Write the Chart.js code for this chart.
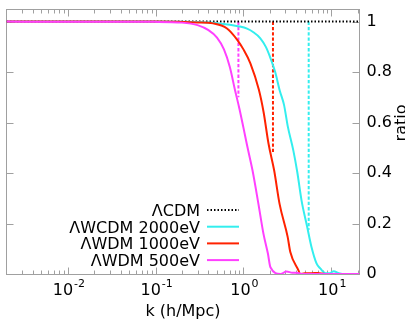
<!DOCTYPE html>
<html>
<head>
<meta charset="utf-8">
<script src="https://cdn.jsdelivr.net/npm/chart.js@4"></script>
<style>
html, body { margin: 0; padding: 0; background: #fff; }
canvas { display: block; }
</style>
</head>
<body>
<canvas id="ratioChart" width="405" height="324"></canvas>
<script>
// legend labels / colours, in legend order
const seriesLabels = ['ΛCDM', 'ΛWCDM 2000eV', 'ΛWDM 1000eV', 'ΛWDM 500eV'];
const seriesColors = ['#000000', '#33eeee', '#ff2200', '#ff40ff'];

// axis ranges and ticks
const xMin = 0.002;
const xMax = 21;
const xDecades = [0.001, 0.01, 0.1, 1, 10];
const xMajorTicks = [0.01, 0.1, 1, 10];
const xMajorExponents = ['-2', '-1', '0', '1'];
const yMin = 0;
const yMax = 1.05;
const yTicks = [0, 0.2, 0.4, 0.6, 0.8, 1];
const yTickLabels = ['0', '0.2', '0.4', '0.6', '0.8', '1'];

// LCDM reference
const kCdm = [0.002, 21];
const ratioCdm = [1, 1];

// 2000 eV
const kWcdm2000 = [0.002, 0.1, 0.3, 0.5, 0.7, 0.9, 1.1, 1.3, 1.55, 1.8, 2.0, 2.3, 2.6, 2.9, 3.2, 3.7, 4.1, 4.6, 5.3, 5.95, 6.8, 7.5, 8.6, 9.5, 10.7, 12, 13.5, 21];
const ratioWcdm2000 = [1, 1, 0.998, 0.994, 0.988, 0.981, 0.972, 0.958, 0.935, 0.9, 0.862, 0.8, 0.725, 0.67, 0.585, 0.49, 0.405, 0.29, 0.19, 0.108, 0.042, 0.022, 0.003, 0.003, 0.011, 0.004, 0, 0];

// 1000 eV
const kWdm1000 = [0.002, 0.1, 0.3, 0.45, 0.65, 0.85, 1.0, 1.2, 1.5, 1.7, 1.93, 2.24, 2.58, 3.19, 3.42, 4.26, 4.4, 5, 6, 7, 8.5, 21];
const ratioWdm1000 = [1, 1, 0.997, 0.993, 0.973, 0.928, 0.89, 0.835, 0.73, 0.64, 0.517, 0.41, 0.278, 0.147, 0.087, 0.012, 0, 0.003, 0.003, 0.004, 0, 0];

// 500 eV
const kWdm500 = [0.002, 0.1, 0.2, 0.3, 0.4, 0.5, 0.6, 0.7, 0.8, 0.9, 1.0, 1.1, 1.27, 1.48, 1.69, 1.9, 2.03, 2.65, 3.1, 3.6, 4.2, 4.6, 21];
const ratioWdm500 = [1, 0.999, 0.996, 0.986, 0.966, 0.937, 0.89, 0.82, 0.73, 0.655, 0.58, 0.51, 0.41, 0.279, 0.16, 0.081, 0.027, 0, 0.01, 0.005, 0.004, 0, 0];

// half-mode markers (cyan, red, magenta)
const kHalfMode = [5.54, 2.17, 0.877];
const halfModeTop = [1, 1, 1];
const halfModeBottom = [0.175, 0.477, 0.70];

function toPoints(ks, rs) {
    return ks.map((k, i) => ({ x: k, y: rs[i] }));
}

const xTickValues = [];
xDecades.forEach(d => {
    for (let m = 1; m <= 9; m++) {
        const v = m * d;
        if (v > xMin && v < xMax) xTickValues.push(v);
    }
});

Chart.defaults.font.family = '"DejaVu Sans", sans-serif';
Chart.defaults.font.size = 16;
Chart.defaults.color = '#000';

// border + inward tick marks (gnuplot style)
const frameTicks = {
    id: 'frameTicks',
    beforeDatasetsDraw(chart) {
        const { ctx, chartArea: a } = chart;
        const x = chart.scales.x, y = chart.scales.y;
        const l = Math.floor(a.left) + 0.5, r = Math.floor(a.right) + 0.5;
        const t = Math.floor(a.top) + 0.5, b = Math.floor(a.bottom) + 0.5;
        ctx.save();
        ctx.strokeStyle = '#a0a0a0';
        ctx.lineWidth = 1;
        ctx.strokeRect(l, t, r - l, b - t);
        ctx.beginPath();
        x.ticks.forEach(tk => {
            const px = Math.round(x.getPixelForValue(tk.value)) + 0.5;
            const len = xMajorTicks.indexOf(tk.value) >= 0 ? 7 : 4;
            ctx.moveTo(px, b); ctx.lineTo(px, b - len);
            ctx.moveTo(px, t); ctx.lineTo(px, t + len);
        });
        y.ticks.forEach(tk => {
            const py = Math.round(y.getPixelForValue(tk.value)) + 0.5;
            ctx.moveTo(l, py); ctx.lineTo(l + 7, py);
            ctx.moveTo(r, py); ctx.lineTo(r - 7, py);
        });
        ctx.stroke();
        ctx.restore();
    }
};

// decade labels 10^n with a real raised exponent
const decadeLabels = {
    id: 'decadeLabels',
    afterDraw(chart) {
        const ctx = chart.ctx;
        const x = chart.scales.x;
        const base = chart.chartArea.bottom + 21;
        ctx.save();
        ctx.fillStyle = '#000';
        ctx.textBaseline = 'alphabetic';
        ctx.textAlign = 'left';
        xMajorTicks.forEach((v, i) => {
            const px = x.getPixelForValue(v);
            ctx.font = '16px "DejaVu Sans"';
            const wMan = ctx.measureText('10').width;
            ctx.font = '11px "DejaVu Sans"';
            const wExp = ctx.measureText(xMajorExponents[i]).width;
            const x0 = px - (wMan + 1 + wExp) / 2 + 1;
            ctx.font = '16px "DejaVu Sans"';
            ctx.fillText('10', x0, base);
            ctx.font = '11px "DejaVu Sans"';
            ctx.fillText(xMajorExponents[i], x0 + wMan + 1, base - 8);
        });
        ctx.restore();
    }
};

// key drawn inside the plot, text right aligned, sample to the right
const keyBox = {
    id: 'keyBox',
    afterDatasetsDraw(chart) {
        const ctx = chart.ctx;
        ctx.save();
        ctx.font = '16px "DejaVu Sans"';
        ctx.textAlign = 'right';
        ctx.textBaseline = 'alphabetic';
        seriesLabels.forEach((label, i) => {
            const yc = 210 + i * 16.7;
            ctx.fillStyle = '#000';
            ctx.fillText(label, 200, yc + 5.8);
            ctx.strokeStyle = seriesColors[i];
            ctx.lineWidth = 2;
            ctx.setLineDash(i === 0 ? [1.5, 2] : []);
            ctx.beginPath();
            ctx.moveTo(207, yc);
            ctx.lineTo(239, yc);
            ctx.stroke();
        });
        ctx.restore();
    }
};

// right-hand axis title, reads bottom to top
const y2Title = {
    id: 'y2Title',
    afterDraw(chart) {
        const ctx = chart.ctx;
        ctx.save();
        ctx.translate(chart.width + 0.5, 123);
        ctx.rotate(-Math.PI / 2);
        ctx.font = '16px "DejaVu Sans"';
        ctx.fillStyle = '#000';
        ctx.textAlign = 'center';
        ctx.textBaseline = 'alphabetic';
        ctx.fillText('ratio', 0, 0);
        ctx.restore();
    }
};

function curve(label, ks, rs, color, order) {
    return {
        label: label,
        data: toPoints(ks, rs),
        borderColor: color,
        borderWidth: 2,
        pointRadius: 0,
        cubicInterpolationMode: 'monotone',
        order: order
    };
}

function marker(i, color) {
    return {
        label: 'half-mode ' + i,
        data: [{ x: kHalfMode[i], y: halfModeTop[i] }, { x: kHalfMode[i], y: halfModeBottom[i] }],
        borderColor: color,
        borderWidth: 2,
        borderDash: [3.3, 2],
        pointRadius: 0,
        order: 5 + i
    };
}

const datasets = [
    curve(seriesLabels[3], kWdm500, ratioWdm500, seriesColors[3], 0),
    curve(seriesLabels[2], kWdm1000, ratioWdm1000, seriesColors[2], 1),
    curve(seriesLabels[1], kWcdm2000, ratioWcdm2000, seriesColors[1], 2),
    Object.assign(curve(seriesLabels[0], kCdm, ratioCdm, seriesColors[0], 3), { borderDash: [1.5, 2] }),
    marker(0, seriesColors[1]),
    marker(1, seriesColors[2]),
    marker(2, seriesColors[3])
];

new Chart(document.getElementById('ratioChart'), {
    type: 'line',
    data: { datasets: datasets },
    options: {
        responsive: false,
        animation: false,
        devicePixelRatio: 1,
        layout: { padding: { left: 6.5, top: 9, right: 0, bottom: 0 } },
        plugins: {
            legend: { display: false },
            tooltip: { enabled: false }
        },
        scales: {
            x: {
                type: 'logarithmic',
                min: xMin,
                max: xMax,
                afterBuildTicks: s => { s.ticks = xTickValues.map(v => ({ value: v })); },
                afterFit: s => {
                    s.height = 50;
                    s.paddingLeft = 0; s.paddingRight = 0; s.paddingTop = 0; s.paddingBottom = 0;
                },
                grid: { display: false, drawTicks: false },
                border: { display: false },
                ticks: {
                    autoSkip: false,
                    maxRotation: 0,
                    padding: 5,
                    callback: () => ''
                },
                title: { display: true, text: 'k (h/Mpc)', padding: { top: 0, bottom: 3 } }
            },
            y: {
                position: 'right',
                min: yMin,
                max: yMax,
                afterBuildTicks: s => { s.ticks = yTicks.map(v => ({ value: v })); },
                afterFit: s => {
                    s.width = 45.5;
                    s.paddingLeft = 0; s.paddingRight = 0; s.paddingTop = 0; s.paddingBottom = 0;
                },
                grid: { display: false, drawTicks: false },
                border: { display: false },
                ticks: {
                    padding: 7,
                    callback: (v, i) => yTickLabels[i]
                }
            }
        }
    },
    plugins: [frameTicks, keyBox, decadeLabels, y2Title]
});
</script>
</body>
</html>
